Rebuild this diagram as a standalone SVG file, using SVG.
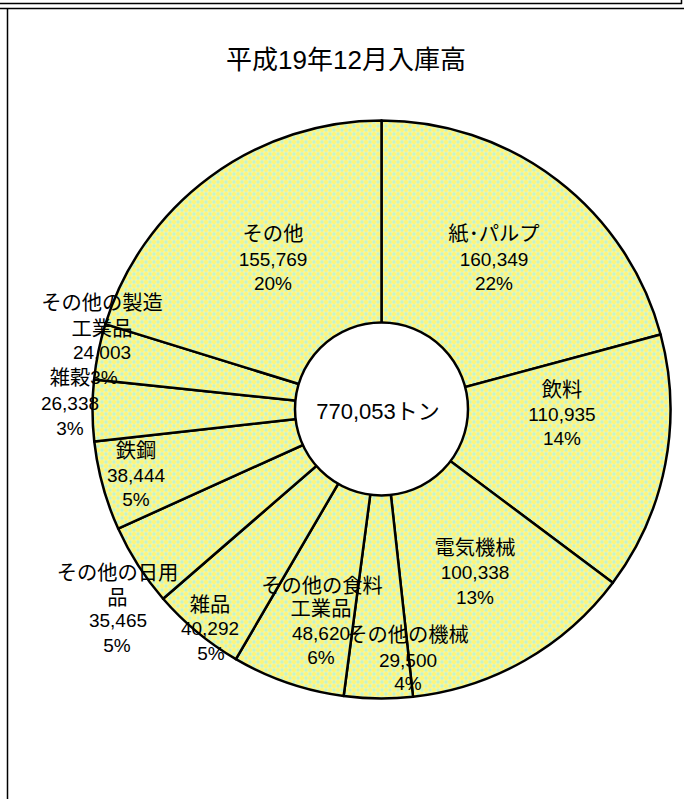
<svg xmlns="http://www.w3.org/2000/svg" width="684" height="799" viewBox="0 0 684 799">
<style>
.t{font-family:"Liberation Sans","Noto Sans CJK JP",sans-serif;font-size:19px;fill:#000;text-anchor:middle}
.j{font-size:20.3px}
.title{font-size:26px}
.ctr{font-size:22px}
.s{fill:url(#dots);stroke:#000;stroke-width:2.5;stroke-linejoin:round}
.b{stroke:#000;fill:none}
</style>
<defs>
<pattern id="dots" width="8" height="8" patternUnits="userSpaceOnUse">
<rect width="8" height="8" fill="#F3F8A8"/>
<circle cx="2" cy="2" r="2" fill="#FFF476"/>
<circle cx="6" cy="6" r="2" fill="#FFF476"/>
<circle cx="6" cy="2" r="1.7" fill="#C2F4CE"/>
<circle cx="2" cy="6" r="1.7" fill="#C2F4CE"/>
</pattern>
</defs>
<rect width="684" height="799" fill="#fff"/>
<g id="frame">
<line class="b" x1="0" y1="3.5" x2="682" y2="3.5" stroke-width="1.5"/>
<line class="b" x1="681.5" y1="0" x2="681.5" y2="4" stroke-width="1.5"/>
<line class="b" x1="0" y1="8.5" x2="684" y2="8.5" stroke-width="1.3"/>
<line class="b" x1="7.5" y1="8.5" x2="7.5" y2="799" stroke-width="1.5"/>
</g>
<text id="title" class="t title" x="346" y="69">平成19年12月入庫高</text>
<g id="slices">
<g id="s-paper"><path class="s" d="M381.5,409.5 L381.5,120.5 A289,289 0 0 1 660.60,334.52 Z"/></g>
<g id="s-drink"><path class="s" d="M381.5,409.5 L660.60,334.52 A289,289 0 0 1 612.84,582.72 Z"/></g>
<g id="s-elec"><path class="s" d="M381.5,409.5 L612.84,582.72 A289,289 0 0 1 413.05,696.77 Z"/></g>
<g id="s-mach"><path class="s" d="M381.5,409.5 L413.05,696.77 A289,289 0 0 1 343.66,696.01 Z"/></g>
<g id="s-food"><path class="s" d="M381.5,409.5 L343.66,696.01 A289,289 0 0 1 235.89,659.14 Z"/></g>
<g id="s-misc"><path class="s" d="M381.5,409.5 L235.89,659.14 A289,289 0 0 1 163.09,598.75 Z"/></g>
<g id="s-daily"><path class="s" d="M381.5,409.5 L163.09,598.75 A289,289 0 0 1 118.16,528.57 Z"/></g>
<g id="s-steel"><path class="s" d="M381.5,409.5 L118.16,528.57 A289,289 0 0 1 94.28,441.50 Z"/></g>
<g id="s-grain"><path class="s" d="M381.5,409.5 L94.28,441.50 A289,289 0 0 1 94.06,379.51 Z"/></g>
<g id="s-manuf"><path class="s" d="M381.5,409.5 L94.06,379.51 A289,289 0 0 1 105.39,324.15 Z"/></g>
<g id="s-other"><path class="s" d="M381.5,409.5 L105.39,324.15 A289,289 0 0 1 381.5,120.5 Z"/></g>
</g>
<g id="center">
<circle cx="381.5" cy="409" r="86.5" fill="#fff" stroke="#000" stroke-width="2.5"/>
<text class="t ctr" x="378" y="419">770,053トン</text>
</g>
<g id="labels">
<g id="l-paper"><text class="t j" x="494" y="241">紙･パルプ</text><text class="t" x="494" y="266">160,349</text><text class="t" x="494" y="290">22%</text></g>
<g id="l-other"><text class="t j" x="273" y="241">その他</text><text class="t" x="273" y="266">155,769</text><text class="t" x="273" y="290">20%</text></g>
<g id="l-drink"><text class="t j" x="562" y="397">飲料</text><text class="t" x="562" y="421">110,935</text><text class="t" x="562" y="445">14%</text></g>
<g id="l-elec"><text class="t j" x="475" y="555">電気機械</text><text class="t" x="475" y="579">100,338</text><text class="t" x="475" y="604">13%</text></g>
<g id="l-mach"><text class="t j" x="408" y="642">その他の機械</text><text class="t" x="408" y="667">29,500</text><text class="t" x="408" y="690">4%</text></g>
<g id="l-food"><text class="t j" x="322" y="593">その他の食料</text><text class="t j" x="321" y="616">工業品</text><text class="t" x="321" y="640">48,620</text><text class="t" x="321" y="664">6%</text></g>
<g id="l-misc"><text class="t j" x="210" y="612">雑品</text><text class="t" x="210" y="635">40,292</text><text class="t" x="211" y="660">5%</text></g>
<g id="l-daily"><text class="t j" x="117.5" y="580">その他の日用</text><text class="t j" x="117.5" y="605">品</text><text class="t" x="118" y="627">35,465</text><text class="t" x="117" y="652">5%</text></g>
<g id="l-steel"><text class="t j" x="136" y="458">鉄鋼</text><text class="t" x="136" y="482">38,444</text><text class="t" x="136" y="506">5%</text></g>
<g id="l-grain"><text class="t j" x="70" y="385">雑穀</text><text class="t" x="70" y="410">26,338</text><text class="t" x="70" y="435">3%</text></g>
<g id="l-manuf"><text class="t j" x="102" y="310">その他の製造</text><text class="t j" x="102" y="336">工業品</text><text class="t" x="102" y="359">24,003</text><text class="t" x="104" y="384">3%</text></g>
</g>
</svg>
